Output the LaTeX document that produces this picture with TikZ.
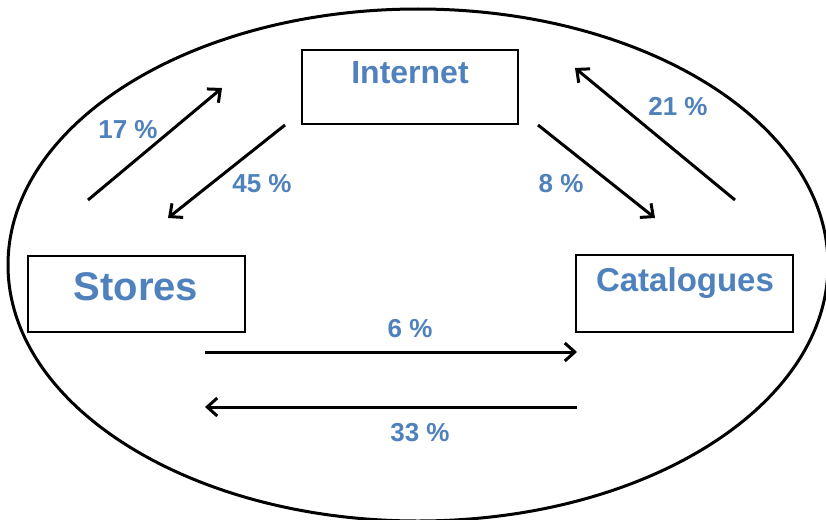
\documentclass[tikz,border=0pt]{standalone}
\usepackage{fontspec}
\setmainfont{Liberation Sans}
\usetikzlibrary{arrows.meta}
\definecolor{txtblue}{HTML}{4F81BD}
\tikzset{
  box/.style={draw=black, line width=2.6pt, rectangle, inner sep=0pt, fill=white},
  boxtext/.style={text=txtblue, font=\bfseries, inner sep=0pt, anchor=center},
  pct/.style={text=txtblue, font=\bfseries\fontsize{26}{26}\selectfont, inner sep=0pt, anchor=center},
  conn/.style={line width=3pt, -{Straight Barb[length=10pt,width=18pt,line width=3pt]}},
}
\begin{document}
\begin{tikzpicture}[x=1pt,y=-1pt]
\useasboundingbox (0,0) rectangle (826,519);
\fill[white] (0,0) rectangle (826,519);
\draw[line width=3pt] (418,265) ellipse [x radius=410, y radius=256];

\node[box, minimum width=216pt, minimum height=74pt] (internet) at (410,87) {};
\node[boxtext, font=\bfseries\fontsize{32}{32}\selectfont] (internetT) at (410,73) {Internet};

\node[box, minimum width=217pt, minimum height=76pt] (stores) at (136.5,294) {};
\node[boxtext, font=\bfseries\fontsize{40}{40}\selectfont] (storesT) at (136,287) {Stores};

\node[box, minimum width=217pt, minimum height=77pt] (catalogues) at (684.5,293.5) {};
\node[boxtext, font=\bfseries\fontsize{33}{33}\selectfont] (cataloguesT) at (685,283) {Catalogues};

\coordinate (a1s) at (88,200);  \coordinate (a1e) at (222,88);
\coordinate (a2s) at (285,125); \coordinate (a2e) at (168,218);
\coordinate (a3s) at (538,125); \coordinate (a3e) at (655,218);
\coordinate (a4s) at (735,200); \coordinate (a4e) at (575,68);
\coordinate (a5s) at (205,352); \coordinate (a5e) at (577,352);
\coordinate (a6s) at (577,407); \coordinate (a6e) at (205,407);

\draw[conn] (a1s) -- (a1e);
\draw[conn] (a2s) -- (a2e);
\draw[conn] (a3s) -- (a3e);
\draw[conn] (a4s) -- (a4e);
\draw[conn] (a5s) -- (a5e);
\draw[conn] (a6s) -- (a6e);

\node[pct] (l17) at (128,130) {17 \%};
\node[pct] (l45) at (262,184) {45 \%};
\node[pct] (l8) at (561,184) {8 \%};
\node[pct] (l21) at (678,107) {21 \%};
\node[pct] (l6) at (410,329) {6 \%};
\node[pct] (l33) at (420,433) {33 \%};
\end{tikzpicture}
\end{document}
